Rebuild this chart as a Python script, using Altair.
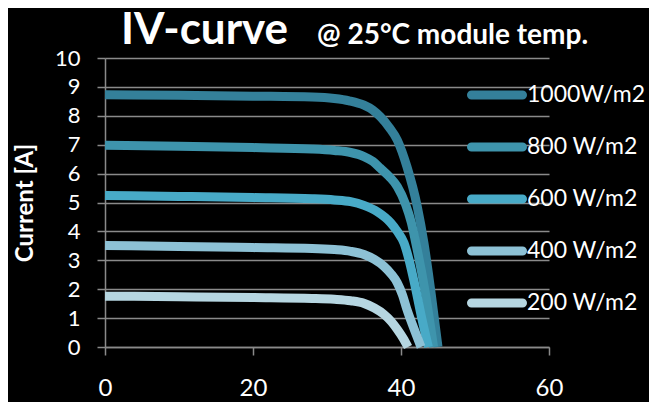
import altair as alt
import pandas as pd

# ---- data ----
series_names = ["1000W/m2", "800 W/m2", "600 W/m2", "400 W/m2", "200 W/m2"]
series_colors = ["#34809A", "#3E94AC", "#48AAC7", "#8DC1D5", "#B6D6E1"]

v_1000 = [0, 10, 20, 28, 31, 33, 35, 36.2, 37.2, 38.4, 39.5, 40.8, 42.2, 43.1, 44.1, 45.0]
i_1000 = [8.73, 8.71, 8.68, 8.65, 8.60, 8.52, 8.37, 8.20, 7.97, 7.60, 7.16, 6.24, 4.86, 3.6, 1.8, 0.0]

v_800 = [0, 10, 20, 28, 31, 33.2, 35.0, 36.2, 37.2, 38.4, 39.5, 40.6, 41.4, 42.0, 43.2, 44.4]
i_800 = [6.98, 6.95, 6.90, 6.85, 6.80, 6.73, 6.59, 6.42, 6.19, 5.90, 5.55, 4.95, 4.30, 3.6, 2.0, 0.0]

v_600 = [0, 10, 20, 28, 31, 33.2, 35.0, 36.8, 38.6, 39.5, 40.4, 41.1, 41.8, 42.8, 43.7]
i_600 = [5.24, 5.21, 5.17, 5.13, 5.09, 5.03, 4.90, 4.68, 4.30, 4.0, 3.60, 3.0, 2.23, 1.0, 0.0]

v_400 = [0, 10, 20, 28, 31, 33.2, 35.0, 36.4, 37.7, 38.7, 39.5, 40.2, 40.8, 41.8, 42.7]
i_400 = [3.51, 3.48, 3.44, 3.41, 3.37, 3.31, 3.20, 3.03, 2.79, 2.52, 2.22, 1.80, 1.30, 0.6, 0.0]

v_200 = [0, 10, 20, 28, 31, 33.2, 35.0, 36.4, 37.7, 38.7, 39.5, 40.3, 40.95]
i_200 = [1.76, 1.74, 1.71, 1.68, 1.65, 1.60, 1.51, 1.35, 1.13, 0.88, 0.61, 0.30, 0.0]

x_ticks = [0, 20, 40, 60]
y_ticks = [0, 1, 2, 3, 4, 5, 6, 7, 8, 9, 10]

title_main = "IV-curve"
title_sub = "@ 25°C module temp."
y_title = "Current [A]"

# ---- build table ----
rows = []
for name, vs, cs in zip(series_names,
                        [v_1000, v_800, v_600, v_400, v_200],
                        [i_1000, i_800, i_600, i_400, i_200]):
    for v, c in zip(vs, cs):
        rows.append({"series": name, "V": v, "I": c})
df = pd.DataFrame(rows)

FONT = "Lato"
GRAY = "#8a8a8a"

# capsule-shaped legend symbol (rounded ends)
CAPSULE = ("M-1.0,-0.0882 H1.0 A0.0882,0.0882 0 0 1 1.0,0.0882 "
           "H-1.0 A0.0882,0.0882 0 0 1 -1.0,-0.0882 Z")

lines = alt.Chart(df).mark_line(
    strokeWidth=9, interpolate="monotone", strokeCap="butt"
).encode(
    x=alt.X("V:Q",
            scale=alt.Scale(domain=[0, 60], nice=False),
            axis=alt.Axis(values=x_ticks, grid=False, title=None,
                          labelFlush=False,
                          labelFontSize=24, labelPadding=21)),
    y=alt.Y("I:Q",
            scale=alt.Scale(domain=[0, 10], nice=False),
            axis=alt.Axis(values=y_ticks, grid=True, title=y_title,
                          labelFlush=False,
                          labelFontSize=22, labelPadding=17,
                          titleFontSize=24, titlePadding=17)),
    color=alt.Color("series:N",
                    scale=alt.Scale(domain=series_names, range=series_colors),
                    sort=series_names,
                    legend=alt.Legend(
                        title=None, orient="none", legendX=364, legendY=9,
                        symbolType=CAPSULE, symbolSize=2601,
                        symbolStrokeWidth=4.5, labelFontSize=23,
                        labelColor="white", labelFont=FONT, labelOffset=2,
                        rowPadding=12, padding=0,
                    )),
)

t_main = alt.Chart(pd.DataFrame({"t": [title_main]})).mark_text(
    font=FONT, fontSize=44, fontWeight="bold", color="white",
    align="left", baseline="alphabetic"
).encode(text="t:N", x=alt.value(16), y=alt.value(-14.5))

t_sub = alt.Chart(pd.DataFrame({"t": [title_sub]})).mark_text(
    font=FONT, fontSize=28, fontWeight="bold", color="white",
    align="left", baseline="alphabetic"
).encode(text="t:N", x=alt.value(212), y=alt.value(-14.5))

chart = alt.layer(lines, t_main, t_sub).properties(
    width=444, height=289,
    autosize="none",
    padding={"left": 97, "top": 50, "right": 100, "bottom": 55},
    background="black",
).configure_view(
    strokeWidth=0
).configure_axis(
    domainColor=GRAY, domainWidth=1.5,
    tickColor=GRAY, tickWidth=1.5, tickSize=8,
    gridColor=GRAY, gridWidth=1.5,
    labelColor="white", labelFont=FONT,
    titleColor="white", titleFont=FONT, titleFontWeight="bold",
)

chart.save("out.html", embed_options={"renderer": "svg", "actions": False})
